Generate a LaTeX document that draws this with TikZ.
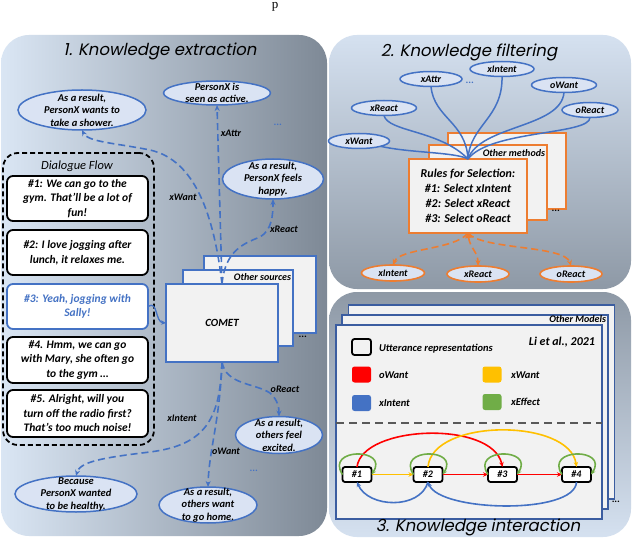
\documentclass[tikz,border=0pt]{standalone}
\usepackage{fontspec}
\setmainfont{Carlito}
\newfontfamily\titlefont[FakeSlant=0.2]{Poppins}
\newfontfamily\serifx{Liberation Serif}
\usetikzlibrary{shapes.geometric,arrows.meta}
\definecolor{myblue}{HTML}{4472C4}
\definecolor{ellfill}{HTML}{DAE3F3}
\definecolor{boxfill}{HTML}{F2F2F2}
\definecolor{myorange}{HTML}{ED7D31}
\definecolor{myred}{HTML}{FF0000}
\definecolor{myyellow}{HTML}{FFC000}
\definecolor{mygreen}{HTML}{70AD47}
\definecolor{darkblue}{HTML}{3B5DA0}
\definecolor{plight}{HTML}{DAE6F4}
\definecolor{pmid}{HTML}{B8C5D4}
\definecolor{pgray}{HTML}{7E8996}
\definecolor{plighttwo}{HTML}{D5E1F0}
\definecolor{pgraytwo}{HTML}{8E99A6}
\definecolor{sepgray}{HTML}{595959}
\newcommand\bodyf{\fontsize{11.5}{14.5}\selectfont\bfseries\itshape}
\newcommand\ellf{\fontsize{10.5}{12.5}\selectfont\bfseries\itshape}
\newcommand\lblf{\fontsize{10}{12}\selectfont\bfseries\itshape}
\newcommand\lgtf{\fontsize{10.5}{12}\selectfont\bfseries\itshape}
\newcommand\rulef{\fontsize{12}{15}\selectfont\bfseries\itshape}
\newcommand\ttlf{\titlefont\fontsize{16.5}{19}\selectfont}
\begin{document}
\begin{tikzpicture}[x=1pt,y=-1pt,
  every node/.style={inner sep=0pt, outer sep=0pt},
  ell/.style={ellipse, draw=myblue, line width=1.5pt, fill=ellfill},
  etxt/.style={align=center, font=\ellf},
  lbl/.style={font=\lblf},
  kdash/.style={draw=myblue, line width=1.6pt, dash pattern=on 7pt off 4pt, -{Stealth[length=6pt,width=5pt]}},
  dbox/.style={draw=black, line width=1.8pt, fill=white, rounded corners=6pt, minimum width=141pt, minimum height=45pt, align=center, font=\bodyf},
  cbox/.style={draw=myblue, line width=1.3pt, fill=boxfill},
  fell/.style={ellipse, draw=myblue, line width=1.5pt, fill=ellfill, minimum height=15pt, font=\lblf},
  oell/.style={ellipse, draw=myorange, line width=1.6pt, fill=ellfill, minimum height=16pt, minimum width=62pt, font=\lblf},
  fline/.style={draw=myblue, line width=1.5pt},
  rbox/.style={draw=myorange, line width=1.6pt, fill=boxfill, minimum width=118pt},
  odash/.style={draw=myorange, line width=1.6pt, dash pattern=on 7pt off 4pt, -{Stealth[length=6pt,width=5pt]}},
  mbox/.style={draw=darkblue, line width=1.5pt, fill=boxfill, minimum width=266pt, minimum height=194pt},
  lsq/.style={rounded corners=2.5pt, minimum width=19pt, minimum height=16pt},
  lgt/.style={anchor=west, font=\lgtf},
  unode/.style={draw=black, line width=1.8pt, fill=white, rounded corners=2.5pt, minimum width=29pt, minimum height=15pt, font=\lblf},
  iarrow/.style={line width=1.6pt, -{Stealth[length=5pt,width=4.5pt]}},
  ttl/.style={font=\ttlf},
  dots/.style={font=\lblf}
]
\useasboundingbox (0,0) rectangle (632,540);
\fill[white] (0,0) rectangle (632,540);
\node[font=\serifx\fontsize{13}{13}\selectfont, anchor=base] (ptop) at (275,9) {p};

% ---------- panel backgrounds ----------
\shade[left color=plight, middle color=pmid, right color=pgray, rounded corners=28pt] (1,35) rectangle (327,536);
\shade[top color=plighttwo, bottom color=pgraytwo, rounded corners=28pt] (329,35) rectangle (631,289);
\shade[top color=pgraytwo, bottom color=plighttwo, rounded corners=28pt] (329,292) rectangle (631,537);

% ---------- panel 1 ----------
\node[ttl] (t1) at (160,51) {1. Knowledge extraction};

\node[draw=black, line width=1.8pt, dash pattern=on 5pt off 3pt, rounded corners=15pt, minimum width=151pt, minimum height=292pt] (flow) at (78.5,299) {};
\node[font=\fontsize{12.5}{14}\selectfont\itshape] (flowt) at (77,166) {Dialogue Flow};
\node[dbox] (d1) at (77.5,198.5) {\#1: We can go to the\\gym. That’ll be a lot of\\fun!};
\node[dbox] (d2) at (77.5,252.5) {\#2: I love jogging after\\lunch, it relaxes me.};
\node[dbox, draw=myblue, text=myblue] (d3) at (77.5,306.5) {\#3: Yeah, jogging with\\Sally!};
\node[dbox, minimum height=46pt] (d4) at (77.5,360) {\#4. Hmm, we can go\\with Mary, she often go\\to the gym …};
\node[dbox, minimum height=47pt] (d5) at (77.5,413.5) {\#5. Alright, will you\\turn off the radio first?\\That’s too much noise!};

\node[cbox, minimum width=112pt, minimum height=77pt] (cback) at (260,294.5) {};
\node[cbox, minimum width=110pt, minimum height=76pt] (cmid) at (238,308) {};
\node[cbox, minimum width=112pt, minimum height=78pt, font=\fontsize{11}{13}\selectfont\bfseries\itshape] (comet) at (222,323) {COMET};
\node[lbl, anchor=east] (osrc) at (291,277) {Other sources};
\node[dots] (cdots) at (303,337) {...};

\node[ell, minimum width=128pt, minimum height=40pt] (e1) at (82,110) {};
\node[etxt] (e1t) at (e1) {As a result,\\PersonX wants to\\take a shower.};
\node[ell, minimum width=107pt, minimum height=24pt] (e2) at (217,93) {};
\node[etxt] (e2t) at (e2) {PersonX is\\seen as active.};
\node[ell, minimum width=101pt, minimum height=40pt] (e3) at (273,179) {};
\node[etxt] (e3t) at (e3) {As a result,\\PersonX feels\\happy.};
\node[ell, minimum width=122pt, minimum height=36pt] (e4) at (76,494) {};
\node[etxt] (e4t) at (e4) {Because\\PersonX wanted\\to be healthy.};
\node[ell, minimum width=98pt, minimum height=36pt] (e5) at (208,505) {};
\node[etxt] (e5t) at (e5) {As a result,\\others want\\to go home.};
\node[ell, minimum width=87pt, minimum height=37pt] (e6) at (279,435) {};
\node[etxt] (e6t) at (e6) {As a result,\\others feel\\excited.};

\node[dots, text=myblue] (bd1) at (278,125) {...};
\node[dots, text=myblue] (bd2) at (254,471) {...};

\draw[kdash] (comet.north) .. controls (214,215) and (195,160) .. (150,150) .. controls (115,143) and (88,142) .. (e1.south);
\draw[kdash] (comet.north) -- (e2.south);
\draw[kdash] (comet.north) .. controls (225,250) and (245,243) .. (260,237) .. controls (272,230) and (273,215) .. (e3.south);
\draw[kdash] (comet.south) .. controls (220,420) and (205,445) .. (150,452) .. controls (100,458) and (80,462) .. (e4.north);
\draw[kdash] (comet.south) .. controls (220,420) and (209,450) .. (e5.north);
\draw[kdash] (comet.south) .. controls (226,385) and (255,383) .. (270,393) .. controls (278,400) and (279,408) .. (e6.north);
\draw[myblue, line width=1.3pt, -{Stealth[length=5pt,width=4.5pt]}] (d3.east) .. controls (158,300) and (155,322) .. (comet.west);

\node[lbl] (lxw) at (183,197) {xWant};
\node[lbl] (lxa) at (231,133) {xAttr};
\node[lbl] (lxr) at (284,229) {xReact};
\node[lbl] (lxi) at (182,418) {xIntent};
\node[lbl] (low) at (226,451) {oWant};
\node[lbl] (lor) at (285,389) {oReact};

% ---------- panel 2 ----------
\node[ttl] (t2) at (469,52) {2. Knowledge filtering};
\node[rbox, minimum height=76pt] (rback) at (507,171) {};
\node[rbox, minimum height=75pt] (rmid) at (488,182.5) {};
\node[rbox, minimum height=74pt, align=center, font=\rulef] (rules) at (468,196) {Rules for Selection:\\\#1: Select xIntent\\\#2: Select xReact\\\#3: Select oReact};
\node[lbl, anchor=east] (omet) at (545,153) {Other methods};
\node[dots] (rdots) at (556,211) {...};

\node[fell, minimum width=62pt] (fxa) at (431,79) {xAttr};
\node[fell, minimum width=64pt] (fxi) at (502,69) {xIntent};
\node[fell, minimum width=65pt] (fow) at (564,85) {oWant};
\node[fell, minimum width=65pt] (fxr) at (384,108) {xReact};
\node[fell, minimum width=56pt] (forr) at (590,110) {oReact};
\node[fell, minimum width=61pt] (fxw) at (359,141) {xWant};
\node[dots, text=myblue] (fdots) at (470,83) {...};

\draw[fline] (fxw.south east) .. controls (410,153) and (455,152) .. (rules.north);
\draw[fline] (fxr.south) .. controls (388,132) and (440,130) .. (rules.north);
\draw[fline] (fxa.south) .. controls (434,118) and (466,122) .. (rules.north);
\draw[fline] (fxi.south) .. controls (503,118) and (470,125) .. (rules.north);
\draw[fline] (fow.south) .. controls (561,128) and (480,125) .. (rules.north);
\draw[fline] (forr.south) .. controls (590,135) and (490,130) .. (rules.north);

\node[oell, minimum width=63pt] (oxi) at (393,273) {xIntent};
\node[oell] (oxr) at (478,274) {xReact};
\node[oell] (oor) at (571,274) {oReact};
\draw[odash] (rules.south) .. controls (455,250) and (400,248) .. (oxi.north);
\draw[odash, {Triangle[length=5pt,width=7pt]}-{Stealth[length=6pt,width=5pt]}] (rules.south) .. controls (470,248) and (478,252) .. (oxr.north);
\draw[odash] (rules.south) .. controls (482,250) and (565,245) .. (oor.north);

% ---------- panel 3 ----------
\node[mbox] (mback) at (481.5,402) {};
\node[mbox] (mmid) at (475,412) {};
\node[mbox] (mfront) at (469,422) {};
\node[lbl, anchor=east] (omod) at (606,319) {Other Models};
\node[dots] (mdots) at (616,502) {...};
\node[font=\fontsize{12}{14}\selectfont\bfseries\itshape, anchor=east] (li) at (595,342) {Li et al., 2021};

\node[lsq, draw=black, line width=1.8pt, fill=boxfill] (squ) at (361.5,347) {};
\node[lgt] (tu) at (379,349) {Utterance representations};
\node[lsq, fill=myred] (sqr) at (361.5,374.5) {};
\node[lgt] (tr) at (379,375) {oWant};
\node[lsq, fill=myyellow] (sqy) at (492,374.5) {};
\node[lgt] (ty) at (511,375) {xWant};
\node[lsq, fill=myblue] (sqb) at (361.5,403) {};
\node[lgt] (tb) at (379,403) {xIntent};
\node[lsq, fill=mygreen] (sqg) at (492,402) {};
\node[lgt] (tg) at (511,402) {xEffect};

\coordinate (sepl) at (336,423);
\coordinate (sepr) at (602,423);
\draw[sepgray, line width=1.6pt, dash pattern=on 8pt off 5pt] (sepl) -- (sepr);

\node[unode] (n1) at (357,474.5) {\#1};
\node[unode] (n2) at (428,474.5) {\#2};
\node[unode] (n3) at (502.5,474.5) {\#3};
\node[unode] (n4) at (576.5,474.5) {\#4};

\draw[iarrow, myred] (n1.north) .. controls (362,425) and (492,420) .. (n3.north);
\draw[iarrow, myyellow] (n2.north) .. controls (432,418) and (570,418) .. (n4.north);
\draw[iarrow, myyellow] (n1.east) -- (n2.west);
\draw[iarrow, myred] (n2.east) -- (n3.west);
\draw[iarrow, myred] (n3.east) -- (n4.west);
\draw[iarrow, myblue] (n2.south) .. controls (420,510) and (368,508) .. (n1.south);
\draw[iarrow, myblue] (n4.south) .. controls (575,515) and (440,512) .. (n2.south);
\foreach \n in {n1,n2,n3,n4}{
  \draw[iarrow, mygreen] (\n.west) .. controls +(-18,-27) and +(18,-27) .. (\n.east);
}

\node[ttl] (t3) at (478,527) {3. Knowledge interaction};
\end{tikzpicture}
\end{document}
